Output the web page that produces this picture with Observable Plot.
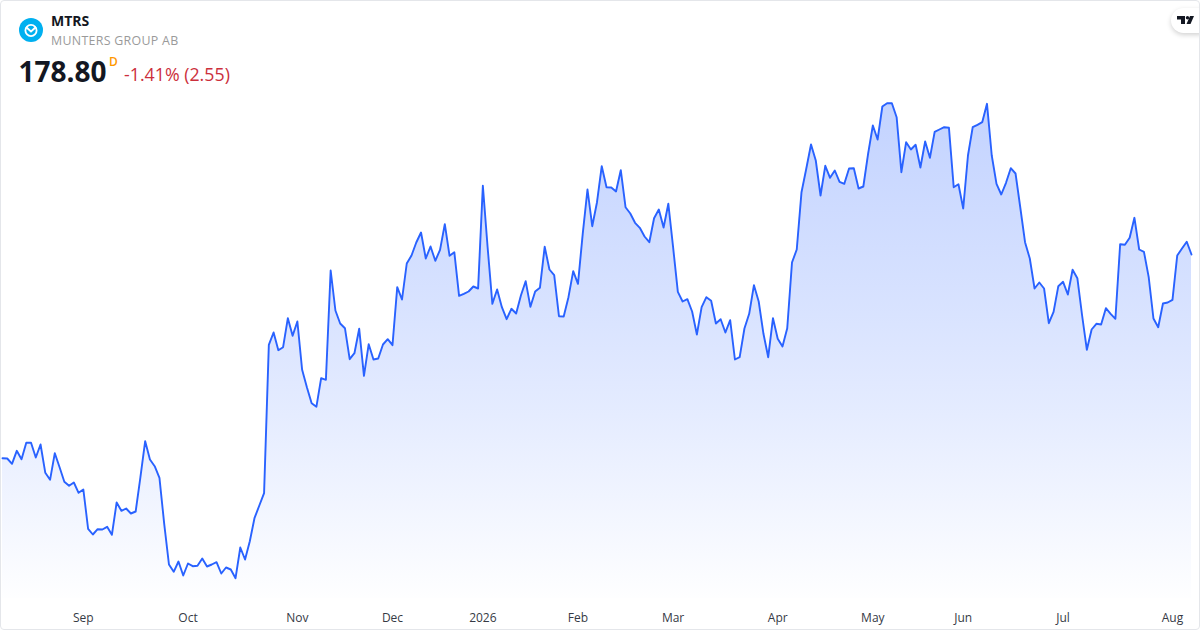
<!DOCTYPE html>
<html>
<head>
<meta charset="utf-8">
<script src="https://cdn.jsdelivr.net/npm/d3@7"></script>
<script src="https://cdn.jsdelivr.net/npm/@observablehq/plot@0.6"></script>
<style>
html,body{margin:0;padding:0;background:#fff;}
#card{position:relative;width:1200px;height:630px;overflow:hidden;font-family:"Open Sans",sans-serif;background:#fff;}
#frame{position:absolute;inset:0;border:1px solid #e4e6ea;border-radius:4px;box-sizing:border-box;pointer-events:none;}
#chart{position:absolute;left:0;top:0;}
#chart svg{display:block;}
.t{position:absolute;white-space:nowrap;line-height:1;}
#logo{position:absolute;left:19px;top:18px;}
#pill{position:absolute;left:1171px;top:8px;width:40px;height:25px;border-radius:13px;background:#fff;box-shadow:0 2px 5px rgba(0,0,0,.18);}
#pill svg{position:absolute;left:6px;top:8px;}
</style>
</head>
<body>
<div id="card">
  <div id="chart"></div>
  <svg id="logo" width="24" height="24" viewBox="0 0 24 24">
    <circle cx="12" cy="12" r="12" fill="#00b0f0"/>
    <circle cx="12" cy="12.5" r="5.6" fill="none" stroke="#fff" stroke-width="1.8"/>
    <path d="M7 9 L12 13.5 L17 9" fill="none" stroke="#fff" stroke-width="1.8"/>
  </svg>
  <div class="t" style="left:51px;top:14px;font-size:14px;font-weight:700;color:#131722;" id="sym"></div>
  <div class="t" style="left:51px;top:35px;font-size:12.400px;color:#9a9a9a;letter-spacing:.3px;" id="name"></div>
  <div class="t" style="left:18.500px;top:57px;font-size:28px;font-weight:700;color:#131722;" id="price"></div>
  <div class="t" style="left:109px;top:56px;font-size:12px;font-weight:600;color:#ff9800;" id="iv"></div>
  <div class="t" style="left:124px;top:66px;font-size:17.800px;color:#cc2f3c;" id="chg"></div>
  <div id="pill"><svg width="17" height="8" viewBox="0 0 17 8"><path d="M0 0H8V8H4V3.500H0Z M13 0H17L13.500 8H9.500Z" fill="#131722"/><circle cx="10.500" cy="1.700" r="1.700" fill="#131722"/></svg></div>
  <div id="frame"></div>
</div>
<script>
const symbol = "MTRS";
const companyName = "MUNTERS GROUP AB";
const lastPrice = "178.80";
const interval = "D";
const change = "-1.41% (2.55)";

const closes = [
138.06,138.0,136.94,139.54,137.86,141.14,141.14,138.2,140.8,135.14,133.74,139.06,136.26,133.34,132.54,133.2,131.14,
131.8,123.94,122.8,123.86,123.8,124.34,122.74,129.2,127.54,128.0,127.0,127.4,134.26,141.46,137.8,136.46,134.14,124.94,116.8,115.34,117.4,114.6,
117.0,116.46,116.54,118.0,116.4,116.8,117.26,115.0,116.2,115.8,114.06,120.2,117.8,121.46,126.14,128.6,131.06,160.74,163.2,159.66,160.26,166.06,162.54,
165.4,155.74,152.26,149.06,148.34,154.06,153.74,175.6,167.6,165.0,164.06,157.86,159.06,163.94,154.54,160.86,157.8,158.0,160.8,161.86,
160.66,172.26,169.8,177.0,178.6,181.2,183.2,178.0,180.4,177.54,179.74,184.86,178.54,179.26,170.54,170.94,171.4,172.4,172.0,
192.54,180.26,168.94,171.8,168.26,165.86,167.94,167.0,170.6,173.46,168.34,171.4,172.14,180.34,175.8,174.66,166.46,166.4,170.26,175.46,
172.94,182.94,191.8,184.46,189.26,196.46,192.26,192.2,191.4,195.66,188.26,187.0,185.14,184.14,182.4,181.26,186.06,187.8,184.2,188.94,
180.26,171.34,169.4,169.86,167.4,162.8,168.26,170.26,169.54,165.0,165.86,163.2,165.66,157.8,158.26,164.0,166.94,172.66,169.4,162.94,158.26,166.06,
161.94,160.4,164.06,177.2,179.8,191.26,195.94,200.8,197.6,190.6,196.54,194.14,195.6,193.34,192.94,196.0,196.06,192.0,192.4,198.94,
204.6,201.8,208.4,209.06,209.06,206.26,195.26,201.26,199.8,200.74,196.2,201.4,198.14,203.34,203.8,204.26,204.14,192.26,192.86,
188.0,198.6,204.26,204.74,205.26,208.94,198.6,192.94,190.8,193.14,196.06,195.0,188.2,181.26,178.0,172.0,173.2,172.0,165.06,167.34,172.46,
173.34,170.8,175.74,174.06,166.6,159.74,163.8,164.94,164.8,168.06,166.94,165.94,180.86,180.74,182.14,186.14,179.8,179.34,174.26,166.0,164.26,169.0,169.2,
169.74,178.6,180.0,181.35,178.8
];
const sessions = closes.map((_, i) => i);
const rows = closes.map((close, i) => ({session: sessions[i], close}));

const tickLabels = ["Sep","Oct","Nov","Dec","2026","Feb","Mar","Apr","May","Jun","Jul","Aug"];
const tickSessions = [17,39,62,82,101,121,141,163,183,202,223,246];
const ticks = tickLabels.map((label, i) => ({label, session: tickSessions[i], weight: label === "2026" ? 700 : 400}));

const priceDomain = [103.6, 229.6];
const areaFloor = 110;

document.getElementById("sym").textContent = symbol;
document.getElementById("name").textContent = companyName;
document.getElementById("price").textContent = lastPrice;
document.getElementById("iv").textContent = interval;
document.getElementById("chg").textContent = change;

const fadeStops = [[0, 0.28], [0.42, 0.18], [0.62, 0.125], [0.84, 0.055], [1, 0.005]];
const gradient = () => {
  const defs = d3.create("svg:defs");
  const g = defs.append("linearGradient").attr("id", "fade").attr("x1", 0).attr("x2", 0).attr("y1", 0).attr("y2", 1);
  for (const [o, a] of fadeStops) g.append("stop").attr("offset", o).attr("stop-color", "#2962ff").attr("stop-opacity", a);
  return defs.node();
};

const plot = Plot.plot({
  width: 1200, height: 630,
  marginTop: 0, marginBottom: 0, marginLeft: 2, marginRight: 9,
  style: {background: "transparent", fontFamily: "'Open Sans',sans-serif"},
  x: {domain: [0, 250], axis: null},
  y: {domain: priceDomain, axis: null},
  marks: [
    gradient,
    Plot.areaY(rows, {x: "session", y1: areaFloor, y2: "close", fill: "url(#fade)"}),
    Plot.lineY(rows, {x: "session", y: "close", stroke: "#2962ff", strokeWidth: 1.9, strokeLinejoin: "round"}),
    Plot.text(ticks, {x: "session", text: "label", frameAnchor: "bottom", lineAnchor: "middle", dy: -12,
      fontSize: 12, fontWeight: "weight", fill: "#363a45"})
  ]
});
document.getElementById("chart").appendChild(plot);
</script>
</body>
</html>
